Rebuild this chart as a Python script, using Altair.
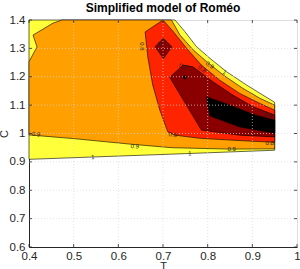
import altair as alt
import pandas as pd

TITLE = "Simplified model of Roméo"
X_TICKS = [0.4, 0.5, 0.6, 0.7, 0.8, 0.9, 1.0]
Y_TICKS = [0.6, 0.7, 0.8, 0.9, 1.0, 1.1, 1.2, 1.3, 1.4]

# filled contour regions (vertices in T, C), drawn from highest level to lowest
YELLOW_T = [0.40, 0.54, 0.75, 0.95, 0.95, 0.924, 0.887, 0.842, 0.805, 0.775, 0.749, 0.727, 0.40]
YELLOW_C = [0.909, 0.917, 0.929, 0.941, 1.110, 1.135, 1.171, 1.218, 1.265, 1.306, 1.359, 1.400, 1.400]

ORANGE_T = [0.474, 0.719, 0.738, 0.768, 0.798, 0.835, 0.879, 0.917, 0.95, 0.95, 0.85, 0.72, 0.63, 0.5, 0.4, 0.4, 0.402, 0.418, 0.409, 0.454]
ORANGE_C = [1.4, 1.4, 1.347, 1.294, 1.253, 1.206, 1.159, 1.124, 1.100, 0.946, 0.945, 0.950, 0.962, 0.982, 0.995, 1.252, 1.259, 1.305, 1.347, 1.389]

RED_T = [0.660, 0.700, 0.723, 0.753, 0.786, 0.827, 0.872, 0.917, 0.950, 0.950, 0.872, 0.783, 0.727, 0.711, 0.693, 0.677, 0.666]
RED_C = [1.358, 1.400, 1.359, 1.300, 1.241, 1.188, 1.141, 1.106, 1.082, 0.969, 0.975, 0.983, 0.994, 1.005, 1.082, 1.171, 1.269]

DARK_T = [0.715, 0.745, 0.767, 0.812, 0.857, 0.902, 0.950, 0.950, 0.872, 0.786]
DARK_C = [1.198, 1.241, 1.235, 1.182, 1.135, 1.094, 1.065, 0.988, 0.994, 1.012]
DIAMOND_T = [0.682, 0.701, 0.720, 0.701]
DIAMOND_C = [1.306, 1.335, 1.306, 1.264]

BLACK_T = [0.798, 0.850, 0.906, 0.950, 0.950, 0.932, 0.872, 0.805, 0.800]
BLACK_C = [1.129, 1.100, 1.065, 1.047, 1.001, 1.006, 1.023, 1.062, 1.100]
DOT_T = [0.745, 0.749, 0.753, 0.749]
DOT_C = [1.198, 1.205, 1.198, 1.191]

# contour labels
LABEL_TEXT = ["0.8", "0.7", "0.7", "0.8", "0.9", "1", "0.9", "0.9", "0.9", "1", "1", "0.8", "0.8", "0.8"]
LABEL_T = [0.652, 0.697, 0.745, 0.787, 0.805, 0.838, 0.416, 0.637, 0.854, 0.543, 0.760, 0.722, 0.939, 0.935]
LABEL_C = [1.307, 1.323, 1.236, 1.227, 1.241, 1.216, 0.998, 0.955, 0.945, 0.917, 0.930, 0.996, 0.966, 1.067]
LABEL_ANGLE = [90, 315, 20, 35, 35, 35, 5, 5, 0, 357, 357, 10, 0, 20]

COLORS = {"yellow": "#FFFF3A", "orange": "#FF9F00", "red": "#FF2400", "dark": "#8A0000", "black": "#000000"}

W, H = 268, 227
FONT = "Liberation Sans"

xscale = alt.Scale(domain=[0.4, 1.0], nice=False, zero=False)
yscale = alt.Scale(domain=[0.6, 1.4], nice=False, zero=False)
X_AXIS = alt.Axis(
    values=X_TICKS, format="~g", grid=False, ticks=False, labelFlush=False,
    labelFontSize=11.5, labelColor="#262626", labelFont=FONT, labelPadding=3,
    domainColor="#262626", title="T", titleFont=FONT, titleFontSize=11,
    titleFontWeight="normal", titleColor="#262626", titlePadding=-1)
Y_AXIS = alt.Axis(
    values=Y_TICKS, format="~g", grid=False, ticks=False,
    labelFontSize=11.5, labelColor="#262626", labelFont=FONT, labelPadding=4,
    domainColor="#262626", title="C", titleFont=FONT, titleFontSize=11,
    titleFontWeight="normal", titleColor="#262626", titlePadding=0)


def xq(field="T"):
    return alt.X(f"{field}:Q", scale=xscale, axis=X_AXIS, title="T")


def yq(field="C"):
    return alt.Y(f"{field}:Q", scale=yscale, axis=Y_AXIS, title="C")


def poly_frame(pieces):
    rows = []
    for pid, (ts, cs) in enumerate(pieces):
        pts = list(zip(ts, cs)) + [(ts[0], cs[0])]
        for i, (t, c) in enumerate(pts):
            rows.append({"pid": pid, "i": i, "T": t, "C": c})
    return pd.DataFrame(rows)


def region(pieces, color):
    return alt.Chart(poly_frame(pieces)).mark_line(
        fill=color, stroke="#000000", strokeWidth=0.6, interpolate="linear"
    ).encode(x=xq(), y=yq(), detail="pid:N", order="i:Q")


layers = [
    region([(YELLOW_T, YELLOW_C)], COLORS["yellow"]),
    region([(ORANGE_T, ORANGE_C)], COLORS["orange"]),
    region([(RED_T, RED_C)], COLORS["red"]),
    region([(DARK_T, DARK_C), (DIAMOND_T, DIAMOND_C)], COLORS["dark"]),
    region([(BLACK_T, BLACK_C), (DOT_T, DOT_C)], COLORS["black"]),
]

grid_x = alt.Chart(pd.DataFrame({"T": X_TICKS[1:-1]})).mark_rule(
    color="#d8d8d8", strokeDash=[1, 2], strokeWidth=0.8, opacity=0.9
).encode(x=xq())
grid_y = alt.Chart(pd.DataFrame({"C": Y_TICKS[1:-1]})).mark_rule(
    color="#d8d8d8", strokeDash=[1, 2], strokeWidth=0.8, opacity=0.9
).encode(y=yq())

tick_style = dict(color="#262626", strokeWidth=0.8)
ticks_bottom = alt.Chart(pd.DataFrame({"T": X_TICKS})).mark_rule(**tick_style).encode(
    x=xq(), y=alt.value(H), y2=alt.value(H - 3))
ticks_top = alt.Chart(pd.DataFrame({"T": X_TICKS})).mark_rule(**tick_style).encode(
    x=xq(), y=alt.value(0), y2=alt.value(3))
ticks_left = alt.Chart(pd.DataFrame({"C": Y_TICKS})).mark_rule(**tick_style).encode(
    y=yq(), x=alt.value(0), x2=alt.value(3))
ticks_right = alt.Chart(pd.DataFrame({"C": Y_TICKS})).mark_rule(**tick_style).encode(
    y=yq(), x=alt.value(W), x2=alt.value(W - 3))

labels = alt.Chart(pd.DataFrame({"text": LABEL_TEXT, "T": LABEL_T, "C": LABEL_C, "angle": LABEL_ANGLE})).mark_text(
    fontSize=6, font=FONT, color="#222222"
).encode(
    x=xq(), y=yq(),
    text="text:N",
    angle=alt.Angle("angle:Q", scale=None),
)

chart = alt.layer(
    *layers, grid_x, grid_y, labels, ticks_bottom, ticks_top, ticks_left, ticks_right
).properties(
    width=W, height=H,
    title=alt.TitleParams(TITLE, fontSize=12, fontWeight="bold", font=FONT, offset=0,
                          dy=1, anchor="middle", color="#000000"),
    autosize=alt.AutoSizeParams(type="none"),
    padding={"left": 29, "top": 20, "right": 3, "bottom": 22},
).configure_view(stroke="#262626", strokeWidth=0.8).configure(background="white")

chart.save("out.html", embed_options={"renderer": "svg", "actions": False})
